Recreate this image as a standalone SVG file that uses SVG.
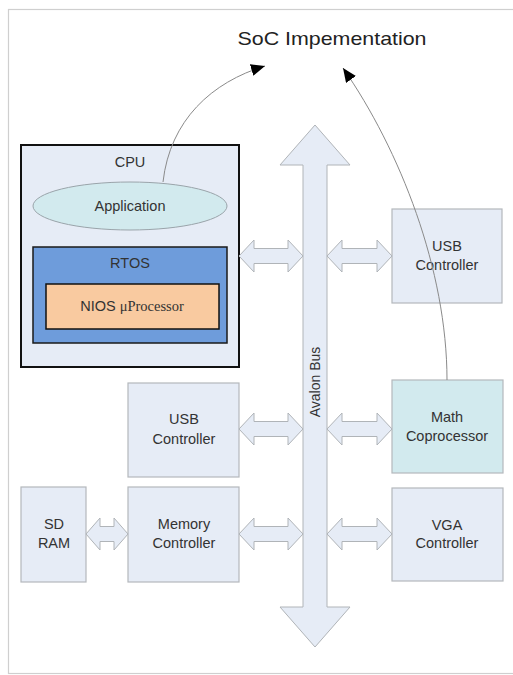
<svg xmlns="http://www.w3.org/2000/svg" width="513" height="675" viewBox="0 0 513 675">
<defs>
<style>
text{font-family:"Liberation Sans",Arial,sans-serif;font-size:14.5px;fill:#333;text-anchor:middle}
.box{fill:#e6ecf6;stroke:#b4b8bc;stroke-width:1.2}
.teal{fill:#d2eaee;stroke:#b4b8bc;stroke-width:1.2}
.dbl{fill:#e6ecf6;stroke:#b0b4b8;stroke-width:1}
.curve{fill:none;stroke:#8a8a8a;stroke-width:1;marker-end:url(#ah)}
</style>
<marker id="ah" markerUnits="userSpaceOnUse" markerWidth="16" markerHeight="12" refX="14" refY="6" orient="auto">
<path d="M0,0 L14,6 L0,12 Z" fill="#000"/>
</marker>
</defs>
<rect width="513" height="675" fill="#fff"/>
<rect x="8.5" y="9.5" width="520" height="664" fill="none" stroke="#cfcfcf" stroke-width="1.2"/>
<text x="332" y="45" style="font-size:19px;fill:#222" textLength="189" lengthAdjust="spacingAndGlyphs">SoC Impementation</text>

<g id="bus">
<path class="dbl" d="M315,125 L350,165 L327,165 L327,607 L350,607 L315,647 L280,607 L303,607 L303,165 L280,165 Z"/>
<text transform="translate(320,382) rotate(-90)" style="font-size:14px">Avalon Bus</text>
</g>

<g id="cpu">
<rect x="21" y="145" width="218" height="222" fill="#e6ecf6" stroke="#111" stroke-width="2"/>
<text x="130" y="167">CPU</text>
</g>
<g id="application">
<ellipse cx="130" cy="206" rx="97" ry="24" fill="#d2eaee" stroke="#9aa4aa" stroke-width="1"/>
<text x="130" y="211">Application</text>
</g>
<g id="rtos">
<rect x="33" y="247" width="194" height="96" fill="#6e9cdb" stroke="#1a1a1a" stroke-width="1.5"/>
<text x="130" y="268">RTOS</text>
</g>
<g id="nios">
<rect x="46" y="284" width="173" height="45" fill="#f9caa0" stroke="#111" stroke-width="1.5"/>
<text x="132" y="311">NIOS <tspan style="font-family:'Liberation Serif','Times New Roman',serif">μProcessor</tspan></text>
</g>

<g id="usb-right">
<rect class="box" x="392" y="209" width="110" height="94"/>
<text x="447" y="251">USB</text>
<text x="447" y="270">Controller</text>
</g>
<g id="math">
<rect class="teal" x="392" y="380" width="111" height="93"/>
<text x="447" y="422">Math</text>
<text x="447" y="441">Coprocessor</text>
</g>
<g id="vga">
<rect class="box" x="392" y="488" width="111" height="93"/>
<text x="447" y="530">VGA</text>
<text x="447" y="548">Controller</text>
</g>
<g id="usb-left">
<rect class="box" x="128" y="383" width="111" height="94"/>
<text x="184" y="424">USB</text>
<text x="184" y="444">Controller</text>
</g>
<g id="memctrl">
<rect class="box" x="128" y="487" width="111" height="95"/>
<text x="184" y="529">Memory</text>
<text x="184" y="548">Controller</text>
</g>
<g id="sdram">
<rect class="box" x="21" y="487" width="65" height="95"/>
<text x="54" y="529">SD</text>
<text x="54" y="548">RAM</text>
</g>

<g id="connectors">
<path class="dbl" d="M239,256 L254,240 L254,248.5 L288,248.5 L288,240 L303,256 L288,272 L288,263.5 L254,263.5 L254,272 Z"/>
<path class="dbl" d="M327,256 L342,240 L342,248.5 L377,248.5 L377,240 L392,256 L377,272 L377,263.5 L342,263.5 L342,272 Z"/>
<path class="dbl" d="M239,429 L254,413 L254,421.5 L288,421.5 L288,413 L303,429 L288,445 L288,436.5 L254,436.5 L254,445 Z"/>
<path class="dbl" d="M327,429 L342,413 L342,421.5 L377,421.5 L377,413 L392,429 L377,445 L377,436.5 L342,436.5 L342,445 Z"/>
<path class="dbl" d="M239,534 L254,518 L254,526.5 L288,526.5 L288,518 L303,534 L288,550 L288,541.5 L254,541.5 L254,550 Z"/>
<path class="dbl" d="M327,534 L342,518 L342,526.5 L377,526.5 L377,518 L392,534 L377,550 L377,541.5 L342,541.5 L342,550 Z"/>
<path class="dbl" d="M86,534 L100,518 L100,526.5 L114,526.5 L114,518 L128,534 L114,550 L114,541.5 L100,541.5 L100,550 Z"/>
<path class="curve" d="M163,182 C170,120 212,82 265,66"/>
<path class="curve" d="M447,380 C447,270 400,150 343,68"/>
</g>
</svg>
